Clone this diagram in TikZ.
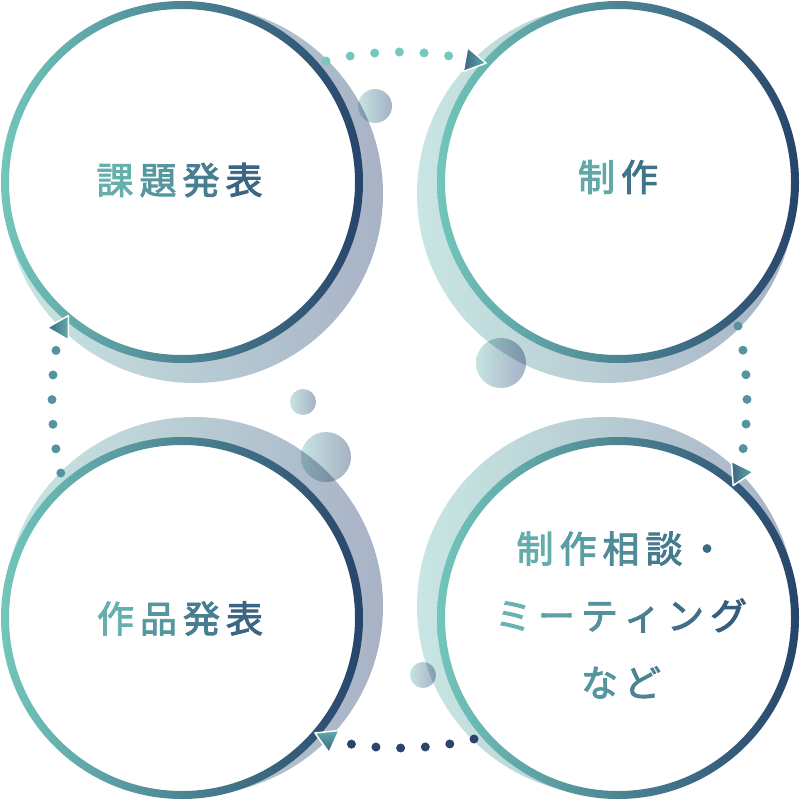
\documentclass[tikz,border=0pt]{standalone}
\usepackage{fontspec}
\newfontfamily\jp{Noto Sans CJK JP}[FakeBold=2.5]
\definecolor{ringT}{HTML}{72C6BB}
\definecolor{ringN}{HTML}{27446B}
\definecolor{shT}{HTML}{C8E6E3}
\definecolor{shN}{HTML}{A8B2C5}
\definecolor{bubT}{HTML}{C6E4E2}
\definecolor{bubN}{HTML}{A6B1C5}
\definecolor{txT}{HTML}{6CBCB4}
\definecolor{txN}{HTML}{335A7D}
\definecolor{dotA}{HTML}{74C8BE}
\definecolor{dotB}{HTML}{55949F}
\definecolor{dotC}{HTML}{2B446C}
\definecolor{triD}{HTML}{3B6684}
\definecolor{triL}{HTML}{5FADA9}
\newcommand\gch[2]{\makebox[43pt]{\textcolor{txN!#1!txT}{#2}}}
\begin{document}
\begin{tikzpicture}[x=1pt,y=-1pt,
  shadowdisc/.style={left color=shT, right color=shN},
  ringband/.style={left color=ringT, right color=ringN, even odd rule},
  bubble/.style={left color=bubT, right color=bubN},
  dotline/.style={line width=9pt, line cap=round, dash pattern=on 0pt off 24.7pt},
  tri/.style={draw=white, line width=1.5pt, line join=round},
  txt/.style={font=\jp\fontsize{37}{67}\selectfont, inner sep=0pt, align=center}]
\useasboundingbox (0,0) rectangle (800,800);
\fill[white] (0,0) rectangle (800,800);

% circles with offset shadows
\foreach \cx/\cy/\sx/\sy in {182/182/194/194, 618/182/606/194, 182/618/194/606, 618/618/606/606}{
  \shade[shadowdisc] (\sx,\sy) circle[radius=189];
  \fill[white] (\cx,\cy) circle[radius=177];
  \shade[ringband] (\cx,\cy) circle[radius=181] (\cx,\cy) circle[radius=173];
}

% bubbles
\begin{scope}[blend mode=multiply]
  \shade[bubble] (375,106) circle[radius=17];
  \shade[bubble] (501,363) circle[radius=25];
  \shade[bubble] (303,402) circle[radius=13];
  \shade[bubble] (326,457) circle[radius=25];
  \shade[bubble] (423,675) circle[radius=13];
\end{scope}

% dotted connectors
\coordinate (s1) at (326,61);
\coordinate (s2) at (738,326);
\coordinate (s3) at (474,739);
\coordinate (s4) at (60.8,473);
\draw[dotline, dotA] (s1) arc[start angle=-103.86, end angle=-80.6, radius=309];
\draw[dotline, dotB] (s2) arc[start angle=-13.86, end angle=9.4, radius=309];
\draw[dotline, dotC] (s3) arc[start angle=76.14, end angle=99.4, radius=309];
\draw[dotline, dotB] (s4) arc[start angle=166.3, end angle=189.6, radius=309];

% arrowheads
\coordinate (a1) at (472.3,60.7);
\coordinate (a2) at (739.3,473);
\coordinate (a3) at (327.7,738.7);
\coordinate (a4) at (61.3,327.7);
\shadedraw[tri, left color=triD, right color=triL]
  ([shift={(10:14)}]a1) -- ([shift={(130:14)}]a1) -- ([shift={(250:14)}]a1) -- cycle;
\shadedraw[tri, left color=triD, right color=triL]
  ([shift={(-4:14)}]a2) -- ([shift={(116:14)}]a2) -- ([shift={(236:14)}]a2) -- cycle;
\shadedraw[tri, top color=triL, bottom color=triD]
  ([shift={(84:14)}]a3) -- ([shift={(204:14)}]a3) -- ([shift={(324:14)}]a3) -- cycle;
\shadedraw[tri, left color=triD, right color=triL]
  ([shift={(180:14)}]a4) -- ([shift={(300:14)}]a4) -- ([shift={(60:14)}]a4) -- cycle;

% labels
\node[txt] (t1) at (179.5,180) {\gch{12}{課}\gch{38}{題}\gch{63}{発}\gch{88}{表}};
\node[txt] (t2) at (618,177) {\gch{20}{制}\gch{75}{作}};
\node[txt] (t3) at (180,618.5) {\gch{12}{作}\gch{38}{品}\gch{63}{発}\gch{88}{表}};
\node[txt] (t4) at (621,615) {\gch{15}{制}\gch{32}{作}\gch{50}{相}\gch{67}{談}\gch{85}{・}\\
  \gch{9}{ミ}\gch{26}{ー}\gch{44}{テ}\gch{61}{ィ}\gch{78}{ン}\gch{96}{グ}\\
  \gch{40}{な}\gch{58}{ど}};
\end{tikzpicture}
\end{document}
